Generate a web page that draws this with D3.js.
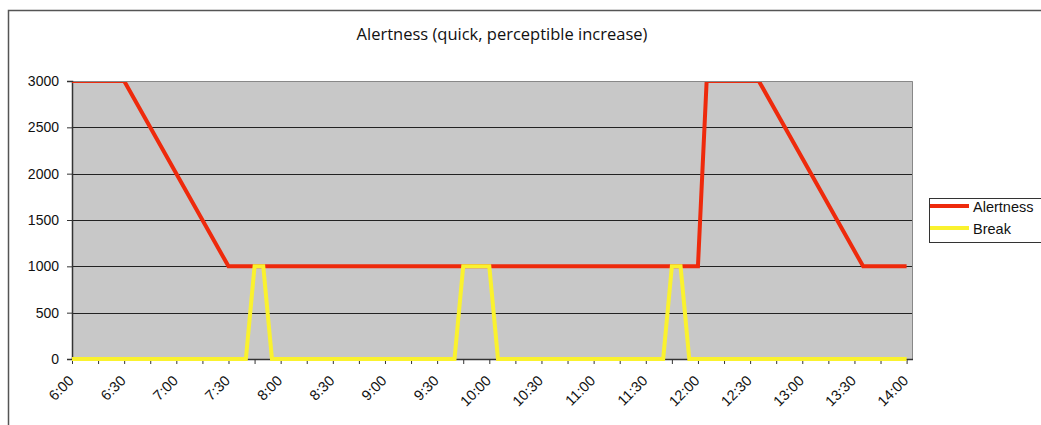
<!DOCTYPE html>
<html>
<head>
<meta charset="utf-8">
<script src="https://cdn.jsdelivr.net/npm/d3@7"></script>
<style>
  body { margin: 0; background: #fff; }
  svg text { font-family: "Liberation Sans", Arial, sans-serif; }
</style>
</head>
<body>
<svg id="chart" width="1041" height="425"></svg>
<script>
// Data (times as "h:mm", values at the corners of each line)
const alertTimes  = ["6:00", "6:30", "7:30", "12:00", "12:05", "12:35", "13:35", "14:00"];
const alertValues = [3000, 3000, 1000, 1000, 3000, 3000, 1000, 1000];
const breakTimes  = ["6:00", "7:40", "7:45", "7:50", "7:55", "9:40", "9:45", "10:00", "10:05", "11:40", "11:45", "11:50", "11:55", "14:00"];
const breakValues = [0, 0, 1000, 1000, 0, 0, 1000, 1000, 0, 0, 1000, 1000, 0, 0];
const yTicks = [0, 500, 1000, 1500, 2000, 2500, 3000];
const xLabels = ["6:00", "6:30", "7:00", "7:30", "8:00", "8:30", "9:00", "9:30", "10:00",
                 "10:30", "11:00", "11:30", "12:00", "12:30", "13:00", "13:30", "14:00"];
const seriesNames = ["Alertness", "Break"];
const colors = { "Alertness": "#ee2a0c", "Break": "#faf22e" };

const toMin = s => { const [h, m] = s.split(":").map(Number); return h * 60 + m; };

const svg = d3.select("#chart");

// Chart frame
svg.append("path")
    .attr("d", "M8.5,425 V10.5 H1041")
    .attr("fill", "none")
    .attr("stroke", "#555")
    .attr("stroke-width", 1.5);

// Title
svg.append("text")
    .attr("x", 502).attr("y", 40)
    .attr("text-anchor", "middle")
    .style("font-family", "'Open Sans', sans-serif")
    .style("font-size", "16.5px")
    .attr("fill", "#111")
    .text("Alertness (quick, perceptible increase)");

// Scales
const pLeft = 72, pRight = 906.6, pTop = 81, pBottom = 359, plotRight = 913;
const x = d3.scaleLinear().domain([toMin("6:00"), toMin("14:00")]).range([pLeft, pRight]);
const y = d3.scaleLinear().domain([0, 3000]).range([pBottom, pTop]);

// Plot background
svg.append("rect")
    .attr("x", pLeft).attr("y", pTop)
    .attr("width", plotRight - pLeft).attr("height", pBottom - pTop)
    .attr("fill", "#c8c8c8");

// Gridlines
svg.append("g").selectAll("line")
    .data(yTicks.filter(d => d > 0 && d < 3000))
    .join("line")
    .attr("x1", pLeft).attr("x2", plotRight)
    .attr("y1", d => Math.round(y(d)) + 0.5).attr("y2", d => Math.round(y(d)) + 0.5)
    .attr("stroke", "#222");

// Plot border (top + right)
svg.append("path")
    .attr("d", `M${pLeft},${pTop + 0.5} H${plotRight - 0.5} V${pBottom}`)
    .attr("fill", "none")
    .attr("stroke", "#888");

// Y axis
const yAxis = svg.append("g")
    .attr("transform", `translate(${pLeft},0)`)
    .call(d3.axisLeft(y).tickValues(yTicks).tickFormat(d3.format("d")).tickSize(5).tickPadding(8));
yAxis.select(".domain").attr("stroke", "#333").attr("stroke-width", 1.5);
yAxis.selectAll(".tick line").attr("stroke", "#333");
yAxis.selectAll("text").style("font-size", "14px").attr("fill", "#111");

// X axis (ticks every 15 minutes, labels every 30)
const xTickVals = d3.range(toMin("6:00"), toMin("14:00") + 1, 15);
const xAxis = svg.append("g")
    .attr("transform", `translate(0,${pBottom})`)
    .call(d3.axisBottom(x).tickValues(xTickVals).tickSize(5).tickFormat(() => ""));
xAxis.select(".domain").attr("stroke", "#333").attr("stroke-width", 1.5)
    .attr("d", `M${pLeft},0.5H${plotRight}`);
xAxis.selectAll(".tick line").attr("stroke", "#333");

svg.append("g").selectAll("text")
    .data(xLabels)
    .join("text")
    .attr("transform", d => `translate(${x(toMin(d)) - 1},${pBottom + 19}) rotate(-45)`)
    .attr("text-anchor", "end")
    .attr("dy", "0.35em")
    .style("font-size", "14.5px")
    .attr("fill", "#111")
    .text(d => d);

// Lines
const line = d3.line().x(d => x(toMin(d[0]))).y(d => y(d[1]));
svg.append("clipPath").attr("id", "clip")
    .append("rect").attr("x", pLeft).attr("y", pTop + 1)
    .attr("width", plotRight - pLeft).attr("height", pBottom - pTop + 3);

svg.append("path")
    .datum(d3.zip(alertTimes, alertValues))
    .attr("clip-path", "url(#clip)")
    .attr("d", line)
    .attr("fill", "none")
    .attr("stroke", colors["Alertness"])
    .attr("stroke-width", 4);

svg.append("path")
    .datum(d3.zip(breakTimes, breakValues))
    .attr("clip-path", "url(#clip)")
    .attr("d", line)
    .attr("fill", "none")
    .attr("stroke", colors["Break"])
    .attr("stroke-width", 4);

// Legend
const legend = svg.append("g").attr("transform", "translate(929,198)");
legend.append("rect")
    .attr("x", 0.5).attr("y", 0.5)
    .attr("width", 130).attr("height", 44)
    .attr("fill", "#fff")
    .attr("stroke", "#333");
seriesNames.forEach((name, i) => {
    legend.append("line")
        .attr("x1", 1).attr("x2", 40)
        .attr("y1", 8 + i * 22).attr("y2", 8 + i * 22)
        .attr("stroke", colors[name])
        .attr("stroke-width", 4);
    legend.append("text")
        .attr("x", 44).attr("y", 9 + i * 22)
        .attr("dy", "0.35em")
        .style("font-size", "14.5px")
        .attr("fill", "#111")
        .text(name);
});
</script>
</body>
</html>
